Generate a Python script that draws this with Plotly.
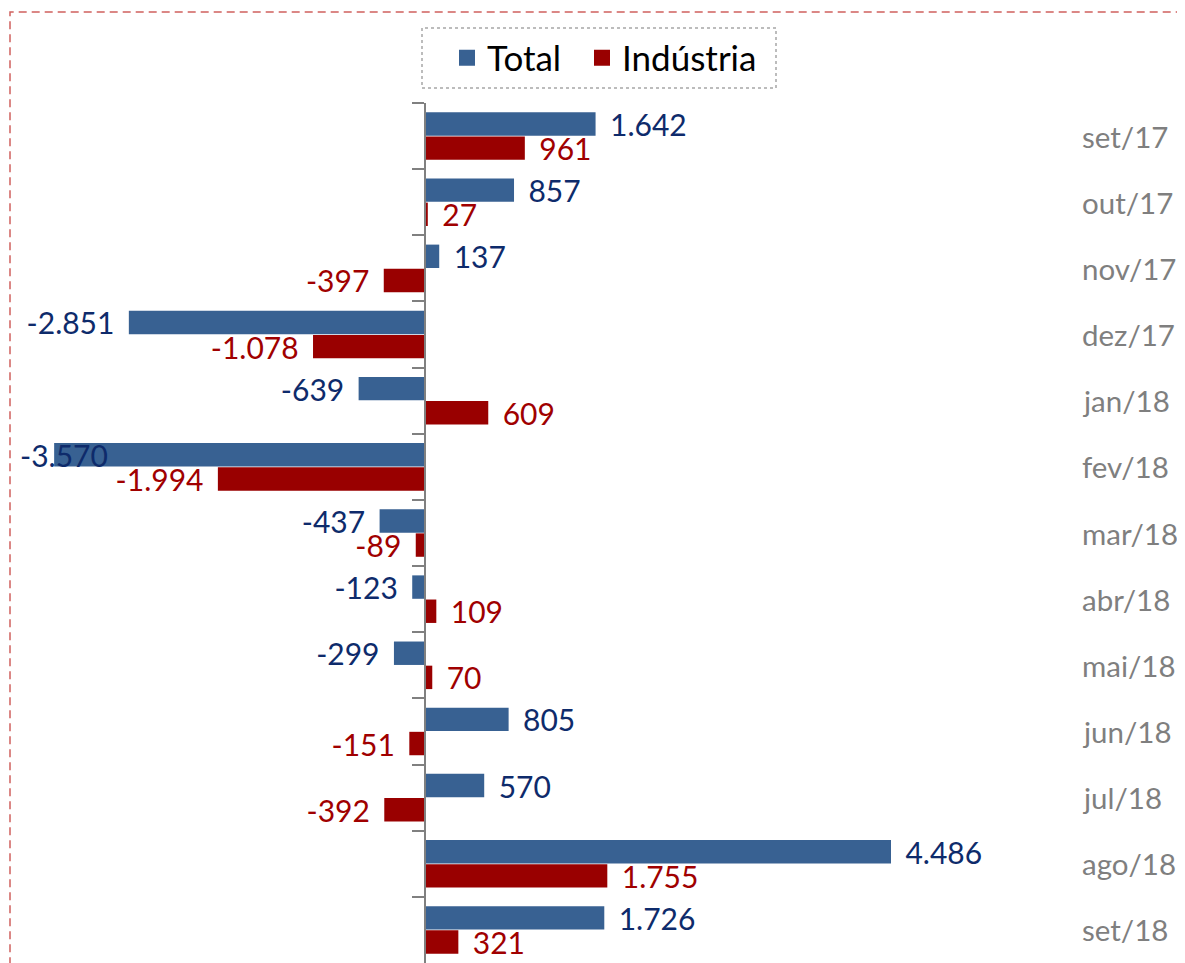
import plotly.graph_objects as go

categories = ["set/17", "out/17", "nov/17", "dez/17", "jan/18", "fev/18", "mar/18",
              "abr/18", "mai/18", "jun/18", "jul/18", "ago/18", "set/18"]
total = [1642, 857, 137, -2851, -639, -3570, -437, -123, -299, 805, 570, 4486, 1726]
industria = [961, 27, -397, -1078, 609, -1994, -89, 109, 70, -151, -392, 1755, 321]

BLUE = "#386192"
RED = "#990000"
NAVY = "#0E2B6B"
DRED = "#A00000"
FONT = "Lato"
LABEL_SIZE = 30

OFF = 8  # page body margin
W, H = 1185 - OFF, 963 - OFF
M_T, M_B = 103 - OFF, 0
ZERO_PX = 425 - OFF
PX_PER_UNIT = (891 - 425) / 4486.0
XMIN = -ZERO_PX / PX_PER_UNIT
XMAX = (W - ZERO_PX) / PX_PER_UNIT
PLOT_H = H - M_T - M_B
BARGAP, GROUPGAP = 0.27, 0.03
CAT_PX = PLOT_H / len(categories)
BAR_OFFSET_PX = (1 - BARGAP) * CAT_PX / 4  # centre of each bar relative to category centre


def fmt(v):
    return f"{v:,}".replace(",", ".")


def labels(vals):
    texts, tmpl, pos, clamped = [], [], [], []
    for i, v in enumerate(vals):
        texts.append(fmt(v))
        room = (v - XMIN) * PX_PER_UNIT
        if v < 0 and room < 100:
            tmpl.append("")
            pos.append("none")
            clamped.append(i)
        elif v < 0:
            tmpl.append("%{text}\u2009\u00a0")
            pos.append("outside")
        else:
            tmpl.append("\u00a0\u2009%{text}")
            pos.append("outside")
    return texts, tmpl, pos, clamped


def py(px):
    return (H - M_B - (px - OFF)) / PLOT_H


def pxx(px):
    return (px - OFF) / W


fig = go.Figure()
for k, (name, vals, col, tcol, lg) in enumerate([("Total", total, BLUE, NAVY, "legend"),
                                                 ("Indústria", industria, RED, DRED, "legend2")]):
    t, tm, p, clamped = labels(vals)
    fig.add_trace(go.Bar(
        name=name, y=categories, x=vals, orientation="h",
        marker=dict(color=col, line=dict(width=0)),
        text=t, texttemplate=tm, textposition=p,
        textfont=dict(family=FONT, size=LABEL_SIZE, color=tcol),
        outsidetextfont=dict(family=FONT, size=LABEL_SIZE, color=tcol),
        constraintext="none", cliponaxis=False, showlegend=False,
    ))
    # labels that would fall outside the chart are kept inside its left edge
    for i in clamped:
        fig.add_annotation(x=XMIN, xref="x", xanchor="left", xshift=10,
                           y=categories[i], yref="y", yanchor="middle",
                           yshift=BAR_OFFSET_PX * (1 if k == 0 else -1),
                           text=t[i], showarrow=False,
                           font=dict(family=FONT, size=LABEL_SIZE, color=tcol))
    # legend entry with a square symbol
    fig.add_trace(go.Scatter(
        name=name, x=[None], y=[None], mode="markers", legend=lg,
        marker=dict(symbol="square", size=19, color=col), showlegend=True,
    ))

for c in categories:
    fig.add_annotation(x=(1080 - OFF) / W, xref="paper", y=c, yref="y", text=c,
                       xanchor="left", yanchor="middle", showarrow=False,
                       font=dict(family=FONT, size=29.5, color="#7F7F7F"))

# outer dashed border (only left and top are visible)
fig.add_shape(type="rect", xref="paper", yref="paper",
              x0=pxx(10), x1=1.05, y0=-0.05, y1=py(12),
              line=dict(color="#D0605E", width=1.5, dash="8px,5px"))
# legend dotted box
fig.add_shape(type="rect", xref="paper", yref="paper",
              x0=pxx(422), x1=pxx(776), y0=py(88), y1=py(28),
              line=dict(color="#A6A6A6", width=1.5, dash="dot"))

leg_common = dict(orientation="h", yanchor="middle", y=py(58), xanchor="left",
                  font=dict(family=FONT, size=35, color="#000000"),
                  bgcolor="rgba(0,0,0,0)", itemwidth=30, itemsizing="trace",
                  borderwidth=0)

fig.update_layout(
    width=W, height=H,
    margin=dict(l=0, r=0, t=M_T, b=M_B, pad=0),
    paper_bgcolor="white", plot_bgcolor="white",
    barmode="group", bargap=BARGAP, bargroupgap=GROUPGAP,
    showlegend=True,
    legend=dict(x=pxx(447), **leg_common),
    legend2=dict(x=pxx(582), **leg_common),
    font=dict(family=FONT),
    xaxis=dict(range=[XMIN, XMAX], visible=False, fixedrange=True),
    yaxis=dict(categoryorder="array", categoryarray=categories, autorange="reversed",
               anchor="free", position=ZERO_PX / W, side="left",
               showline=True, linecolor="#808080", linewidth=2,
               ticks="outside", ticklen=12, tickwidth=2, tickcolor="#808080",
               tickson="boundaries", showticklabels=False, showgrid=False,
               zeroline=False),
)

fig.write_html("out.html")
